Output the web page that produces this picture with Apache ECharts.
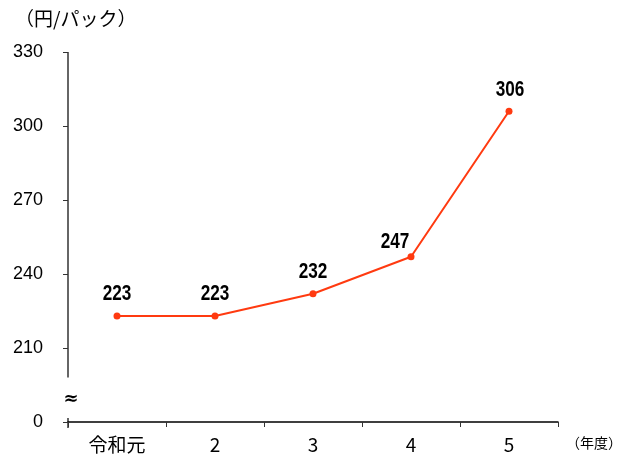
<!DOCTYPE html>
<html>
<head>
<meta charset="utf-8">
<script src="https://cdn.jsdelivr.net/npm/echarts@6/dist/echarts.min.js"></script>
<style>
  html, body { margin: 0; padding: 0; background: #fff; }
  #chart { width: 618px; height: 456px; }
</style>
</head>
<body>
<div id="chart"></div>
<script>
// Price per pack by fiscal year
const years = ['令和元', '2', '3', '4', '5'];
const prices = [223, 223, 232, 247, 306];
// The axis floor (180) is shown as "0" below the break mark
const yTicks = [180, 210, 240, 270, 300, 330];
const axisFloor = 180;
const breakTop = 198;

const LINE_COLOR = '#FF3A10';
const NUM_FONT = '"Liberation Sans", Arial, sans-serif';
const JP_FONT = '"Noto Sans CJK JP", "Noto Sans", sans-serif';

// value label placement relative to each point (dx, dy)
const labelShift = [[0, -22], [0, -22], [0, -22], [-16, -15], [1, -21]];

const chart = echarts.init(document.getElementById('chart'));

chart.setOption({
  animation: false,
  backgroundColor: '#ffffff',
  grid: { left: 68, right: 60, top: 52, bottom: 34, outerBoundsMode: 'none', containLabel: false },
  title: {
    text: '（円/パック）',
    left: 10, top: 4,
    textStyle: { fontFamily: JP_FONT, fontSize: 19, fontWeight: 'normal', color: '#000' }
  },
  xAxis: {
    type: 'category',
    data: years,
    boundaryGap: true,
    name: '（年度）',
    nameLocation: 'end',
    nameGap: 8,
    nameTextStyle: {
      fontFamily: JP_FONT, fontSize: 14, color: '#000',
      verticalAlign: 'top', padding: [14, 0, 0, 0]
    },
    axisLine: { lineStyle: { color: '#000', width: 1.5 } },
    axisTick: { show: true, inside: false, length: 5, alignWithLabel: false, lineStyle: { color: '#333' } },
    axisLabel: {
      margin: 13,
      fontFamily: JP_FONT, fontSize: 19, color: '#000'
    }
  },
  yAxis: {
    type: 'value',
    min: axisFloor,
    max: yTicks[yTicks.length - 1],
    interval: 30,
    splitLine: { show: false },
    axisLine: { show: false },
    axisTick: { show: true, length: 5, lineStyle: { color: '#333' } },
    axisLabel: {
      margin: 25,
      fontFamily: '"Liberation Sans", Arial, sans-serif', fontSize: 18, color: '#000',
      formatter: v => (v === axisFloor ? '0' : String(v))
    }
  },
  series: [
    {
      type: 'line',
      data: prices,
      symbol: 'circle',
      symbolSize: 7,
      lineStyle: { color: LINE_COLOR, width: 2 },
      itemStyle: { color: LINE_COLOR },
      z: 2
    },
    {
      // condensed bold value labels above each point
      type: 'custom',
      data: prices.map((v, i) => [i, v]),
      z: 3,
      renderItem: (params, api) => {
        const p = api.coord([api.value(0), api.value(1)]);
        const s = labelShift[params.dataIndex];
        return {
          type: 'text',
          x: p[0] + s[0],
          y: p[1] + s[1],
          scaleX: 0.78,
          style: {
            text: String(api.value(1)),
            align: 'center',
            verticalAlign: 'middle',
            fontFamily: NUM_FONT,
            fontSize: 22,
            fontWeight: 'bold',
            fill: '#000'
          }
        };
      }
    }
  ]
});

// Broken y axis line: upper part down to the break, short stub at the floor, and the ≈ mark
const yTopPx = chart.convertToPixel({ yAxisIndex: 0 }, yTicks[yTicks.length - 1]);
const yBreakPx = chart.convertToPixel({ yAxisIndex: 0 }, breakTop);
const yFloorPx = chart.convertToPixel({ yAxisIndex: 0 }, axisFloor);
const c0 = chart.convertToPixel({ xAxisIndex: 0 }, years[0]);
const c1 = chart.convertToPixel({ xAxisIndex: 0 }, years[1]);
const xAxisPx = c0 - (c1 - c0) / 2;

chart.setOption({
  graphic: [
    { type: 'line', shape: { x1: xAxisPx, y1: yTopPx, x2: xAxisPx, y2: yBreakPx }, style: { stroke: '#333', lineWidth: 1.5 } },
    { type: 'line', shape: { x1: xAxisPx, y1: yFloorPx - 4, x2: xAxisPx, y2: yFloorPx + 6 }, style: { stroke: '#333', lineWidth: 1.5 } },
    {
      type: 'text', x: xAxisPx + 3, y: (yBreakPx + yFloorPx) / 2,
      style: { text: '≈', fontSize: 18, fontWeight: 'bold', fill: '#000', align: 'center', verticalAlign: 'middle', fontFamily: '"DejaVu Sans", sans-serif' }
    }
  ]
});
</script>
</body>
</html>
